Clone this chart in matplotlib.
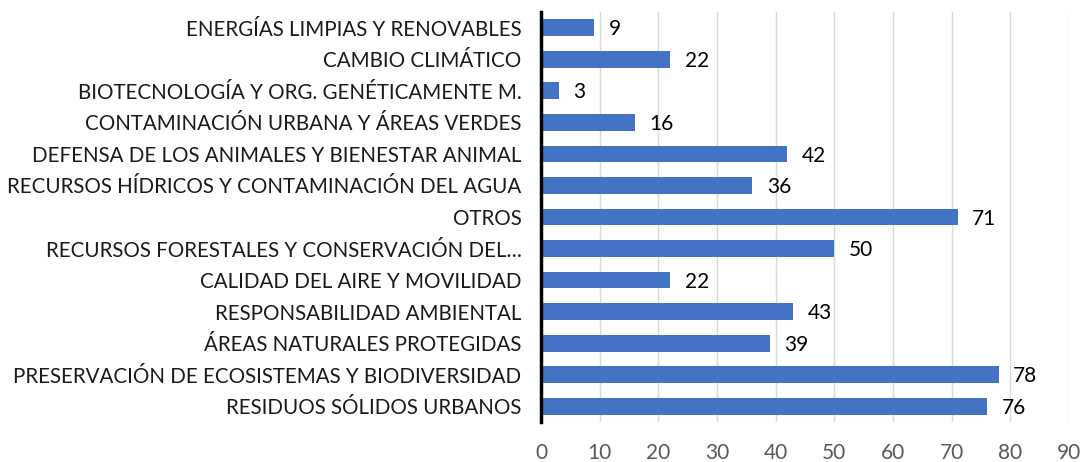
import matplotlib.pyplot as plt
import numpy as np

plt.rcParams['font.family'] = ['Lato', 'DejaVu Sans']

# categorias de arriba hacia abajo
categorias = ['ENERGÍAS LIMPIAS Y RENOVABLES',
              'CAMBIO CLIMÁTICO',
              'BIOTECNOLOGÍA Y ORG. GENÉTICAMENTE M.',
              'CONTAMINACIÓN URBANA Y ÁREAS VERDES',
              'DEFENSA DE LOS ANIMALES Y BIENESTAR ANIMAL',
              'RECURSOS HÍDRICOS Y CONTAMINACIÓN DEL AGUA',
              'OTROS',
              'RECURSOS FORESTALES Y CONSERVACIÓN DEL…',
              'CALIDAD DEL AIRE Y MOVILIDAD',
              'RESPONSABILIDAD AMBIENTAL',
              'ÁREAS NATURALES PROTEGIDAS',
              'PRESERVACIÓN DE ECOSISTEMAS Y BIODIVERSIDAD',
              'RESIDUOS SÓLIDOS URBANOS']
valores = [9, 22, 3, 16, 42, 36, 71, 50, 22, 43, 39, 78, 76]
xticks = [0, 10, 20, 30, 40, 50, 60, 70, 80, 90]

fig = plt.figure(figsize=(10.81, 4.62), dpi=100)
ax = fig.add_axes([0.5005, 0.0866, 0.4885, 0.8874])

y = np.arange(len(categorias))
ax.barh(y, valores, height=0.53, color='#4472C4', zorder=3)
for yi, v in zip(y, valores):
    ax.text(v + 2.5, yi + 0.05, str(v), va='center', ha='left', fontsize=15, color='black')

ax.set_yticks(y)
ax.set_yticklabels(categorias, fontsize=14.8, color='#1a1a1a')
ax.set_ylim(len(categorias) - 0.5, -0.5)
ax.set_xlim(0, 90)
ax.set_xticks(xticks)
ax.tick_params(axis='x', colors='#595959', labelsize=15, length=0, pad=15)
ax.tick_params(axis='y', length=0, pad=14)
ax.grid(axis='x', color='#d9d9d9', linewidth=1, zorder=0)
for s in ['top', 'right', 'bottom']:
    ax.spines[s].set_visible(False)
ax.spines['left'].set_linewidth(2.5)
ax.spines['left'].set_color('black')
ax.spines['left'].set_zorder(4)

plt.savefig('out.png')
